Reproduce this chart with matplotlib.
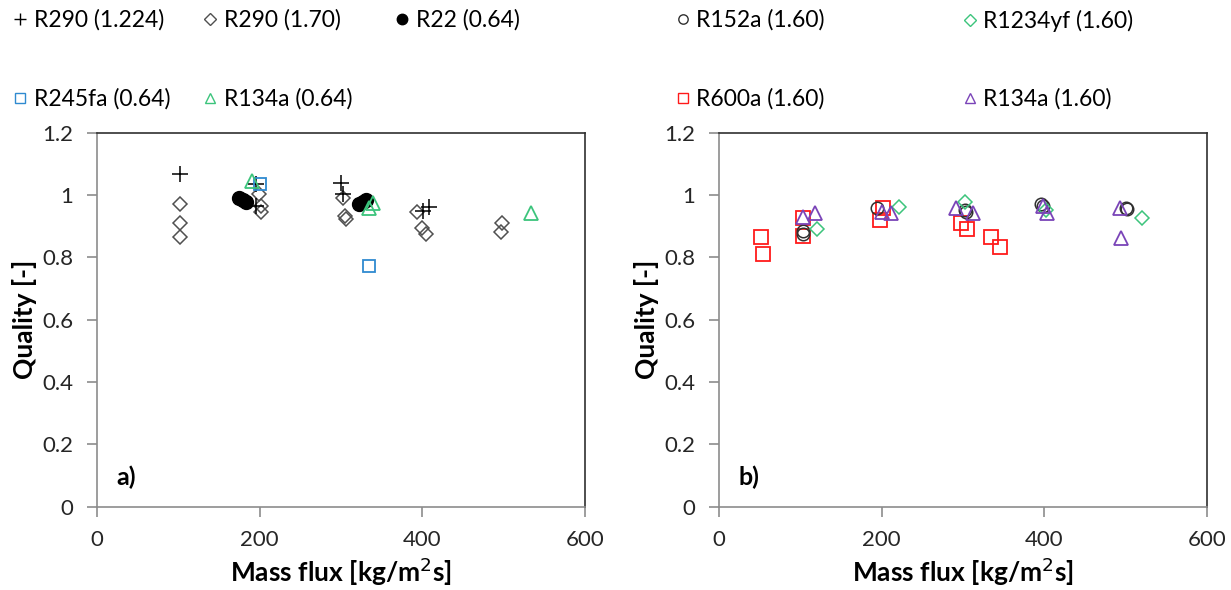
import matplotlib
matplotlib.use("Agg")
import matplotlib.pyplot as plt
from matplotlib.lines import Line2D

plt.rcParams['font.family'] = ['Lato', 'DejaVu Sans']

# Panel a) - mass flux [kg/m2s] and outlet quality
r290_a_x = [102, 196, 195, 300, 302, 408, 401]
r290_a_y = [1.069, 1.037, 0.966, 1.040, 1.005, 0.963, 0.950]

r290_b_x = [102, 102, 102, 199, 202, 202, 302, 305, 306, 393, 399, 404, 498, 497]
r290_b_y = [0.973, 0.909, 0.865, 1.005, 0.966, 0.946, 0.992, 0.932, 0.924, 0.947, 0.893, 0.874, 0.912, 0.880]

r22_x = [175, 179, 183, 322, 327, 331]
r22_y = [0.990, 0.985, 0.978, 0.972, 0.978, 0.985]

r245fa_x = [200, 334]
r245fa_y = [1.037, 0.771]

r134a_a_x = [191, 339, 335, 534]
r134a_a_y = [1.046, 0.976, 0.957, 0.941]

# Panel b)
r152a_x = [104, 104, 195, 302, 304, 396, 399, 500, 502]
r152a_y = [0.885, 0.875, 0.960, 0.952, 0.945, 0.973, 0.966, 0.960, 0.955]

r1234yf_x = [121, 221, 302, 402, 520]
r1234yf_y = [0.892, 0.963, 0.979, 0.953, 0.925]

r600a_x = [52, 54, 103, 103, 202, 198, 298, 305, 335, 346]
r600a_y = [0.867, 0.810, 0.928, 0.870, 0.960, 0.920, 0.912, 0.890, 0.867, 0.835]

r134a_b_x = [104, 118, 201, 212, 292, 312, 398, 404, 493, 495]
r134a_b_y = [0.929, 0.941, 0.947, 0.941, 0.960, 0.941, 0.966, 0.944, 0.957, 0.861]

x_ticks = [0, 200, 400, 600]
y_ticks = [0, 0.2, 0.4, 0.6, 0.8, 1.0, 1.2]
y_tick_labels = ['0', '0.2', '0.4', '0.6', '0.8', '1', '1.2']

GRAY = '#505050'
BLUE = '#2f8ad0'
GREEN = '#3cc47c'
RED = '#ff1a1a'
PURPLE = '#7a44b8'

styles = {
    'R290 (1.224)': dict(marker='+', color='black', mfc='none', ms=11, mew=1.1),
    'R290 (1.70)': dict(marker='D', color=GRAY, mfc='none', ms=7.5, mew=1.1),
    'R22 (0.64)': dict(marker='o', color='black', mfc='black', ms=10, mew=1.0),
    'R245fa (0.64)': dict(marker='s', color=BLUE, mfc='none', ms=9, mew=1.3),
    'R134a (0.64)': dict(marker='^', color=GREEN, mfc='none', ms=10, mew=1.3),
    'R152a (1.60)': dict(marker='o', color='#303030', mfc='none', ms=9, mew=1.1),
    'R1234yf (1.60)': dict(marker='D', color=GREEN, mfc='none', ms=7.5, mew=1.1),
    'R600a (1.60)': dict(marker='s', color=RED, mfc='none', ms=10, mew=1.3),
    'R134a (1.60)': dict(marker='^', color=PURPLE, mfc='none', ms=10, mew=1.3),
}

fig = plt.figure(figsize=(12.31, 5.90), dpi=100)
ax1 = fig.add_axes([0.0788, 0.141, 0.3964, 0.634])
ax2 = fig.add_axes([0.584, 0.141, 0.3964, 0.634])


def draw(ax, label, x, y):
    st = styles[label]
    ax.plot(x, y, ls='none', marker=st['marker'], mec=st['color'], mfc=st['mfc'],
            ms=st['ms'], mew=st['mew'], label=label)


draw(ax1, 'R290 (1.70)', r290_b_x, r290_b_y)
draw(ax1, 'R290 (1.224)', r290_a_x, r290_a_y)
draw(ax1, 'R22 (0.64)', r22_x, r22_y)
draw(ax1, 'R245fa (0.64)', r245fa_x, r245fa_y)
draw(ax1, 'R134a (0.64)', r134a_a_x, r134a_a_y)

draw(ax2, 'R600a (1.60)', r600a_x, r600a_y)
draw(ax2, 'R152a (1.60)', r152a_x, r152a_y)
draw(ax2, 'R1234yf (1.60)', r1234yf_x, r1234yf_y)
draw(ax2, 'R134a (1.60)', r134a_b_x, r134a_b_y)

for ax, tag in [(ax1, 'a)'), (ax2, 'b)')]:
    ax.set_xlim(0, 600)
    ax.set_ylim(0, 1.2)
    ax.set_xticks(x_ticks)
    ax.set_yticks(y_ticks)
    ax.set_yticklabels(y_tick_labels)
    ax.tick_params(axis='both', labelsize=16, labelcolor='#262626', color='#8c8c8c',
                   direction='out', length=7, width=1.2)
    ax.tick_params(axis='x', pad=10)
    ax.tick_params(axis='y', pad=10)
    for side in ['left', 'bottom']:
        ax.spines[side].set_color('#8c8c8c')
        ax.spines[side].set_linewidth(1.2)
    for side in ['top', 'right']:
        ax.spines[side].set_color('#303030')
        ax.spines[side].set_linewidth(1.2)
    ax.set_xlabel('Mass flux [kg/m$^2$s]', fontsize=19, fontweight='bold', labelpad=4)
    ax.set_ylabel('Quality [-]', fontsize=19, fontweight='bold', labelpad=4)
    ax.text(0.04, 0.08, tag, transform=ax.transAxes, fontsize=18, fontweight='bold',
            ha='left', va='center')

# legend entries laid out as two rows above the panels
legend_slots = [
    ('R290 (1.224)', -0.002, 1.011),
    ('R290 (1.70)', 0.152, 1.011),
    ('R22 (0.64)', 0.308, 1.011),
    ('R152a (1.60)', 0.536, 1.011),
    ('R1234yf (1.60)', 0.769, 1.011),
    ('R245fa (0.64)', -0.002, 0.878),
    ('R134a (0.64)', 0.152, 0.878),
    ('R600a (1.60)', 0.536, 0.878),
    ('R134a (1.60)', 0.769, 0.878),
]
for label, lx, ly in legend_slots:
    st = styles[label]
    h = Line2D([], [], ls='none', marker=st['marker'], mec=st['color'], mfc=st['mfc'],
               ms=st['ms'] * 0.75, mew=1.0)
    fig.legend([h], [label], loc='upper left', bbox_to_anchor=(lx, ly), frameon=False,
               fontsize=16.5, handlelength=0.6, handletextpad=0.3, borderpad=0.2)

fig.savefig('out.png', dpi=100)
